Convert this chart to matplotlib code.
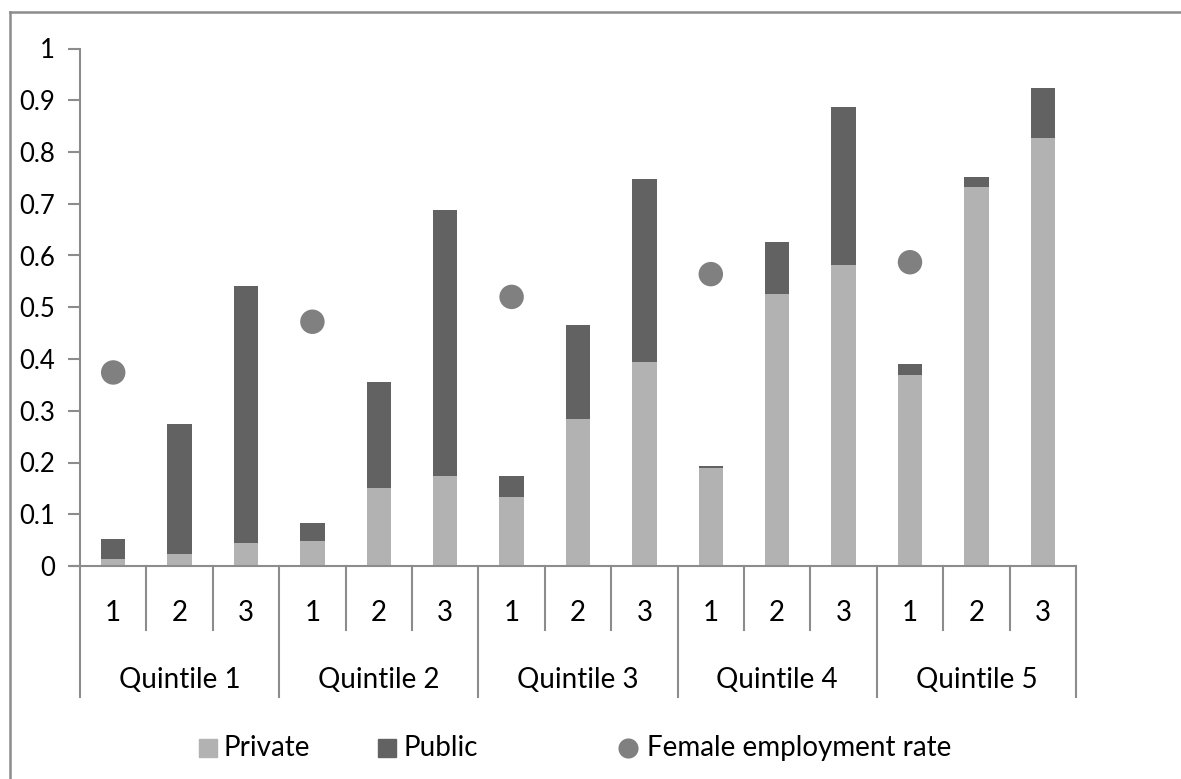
import numpy as np
import matplotlib; matplotlib.use("Agg")
import matplotlib.pyplot as plt
from matplotlib.transforms import blended_transform_factory
from matplotlib.patches import Rectangle
from matplotlib.lines import Line2D

groups = ["Quintile 1", "Quintile 2", "Quintile 3", "Quintile 4", "Quintile 5"]
subcats = ["1", "2", "3"]
private = [0.013, 0.024, 0.044, 0.048, 0.150, 0.174, 0.134, 0.285, 0.395,
           0.190, 0.526, 0.582, 0.370, 0.732, 0.828]
total = [0.053, 0.275, 0.541, 0.083, 0.355, 0.687, 0.174, 0.466, 0.747,
         0.193, 0.626, 0.887, 0.390, 0.751, 0.923]
public = [t - p for t, p in zip(total, private)]
female_rate = [0.374, 0.472, 0.520, 0.564, 0.587]   # shown at sub-category 1 of each quintile

C_PRIV, C_PUB, C_DOT, C_AX = "#b2b2b2", "#626262", "#808080", "#8c8c8c"
plt.rcParams["font.family"] = ["Lato", "DejaVu Sans"]
FS = 20

W, H = 1181, 779
fig = plt.figure(figsize=(W/100, H/100), dpi=100)
ax = fig.add_axes([80/W, 1-566/H, (1076-80)/W, (566-48.5)/H])

x = np.arange(len(private))
ax.bar(x, private, width=0.37, color=C_PRIV, zorder=2)
ax.bar(x, public, width=0.37, bottom=private, color=C_PUB, zorder=2)
ax.scatter(x[::3], female_rate, s=310, color=C_DOT, zorder=3, edgecolors="none")

ax.set_xlim(-0.5, len(x)-0.5); ax.set_ylim(0, 1)
ax.set_yticks(np.arange(0, 1.01, 0.1))
ax.set_yticklabels(["0", "0.1", "0.2", "0.3", "0.4", "0.5", "0.6", "0.7", "0.8", "0.9", "1"])
ax.tick_params(axis="y", length=9, width=1.5, color=C_AX, labelsize=18.5, pad=9)
ax.set_xticks([])
for s in ["top", "right"]: ax.spines[s].set_visible(False)
for s in ["left", "bottom"]:
    ax.spines[s].set_color(C_AX); ax.spines[s].set_linewidth(1.5)
ax.plot([-0.5 - 9/66.4, -0.5], [0, 0], color=C_AX, lw=1.5, clip_on=False)

# two-level category axis
tr = blended_transform_factory(ax.transData, ax.transAxes)
ah = 566-48.5
for i in range(len(x)+1):
    b = -(697-566)/ah if i % 3 == 0 else -(630-566)/ah
    ax.plot([i-0.5, i-0.5], [0, b], color=C_AX, lw=1.5, transform=tr, clip_on=False)
for i in range(len(x)):
    ax.text(i, -(613-566)/ah, subcats[i % 3], transform=tr, ha="center", va="center", fontsize=FS)
for g, name in enumerate(groups):
    ax.text(3*g+1, -(680-566)/ah, name, transform=tr, ha="center", va="center", fontsize=FS)

# chart border (left and top visible)
fig.add_artist(Line2D([10/W, 10/W], [0, 1-12/H], color=C_AX, lw=1.8))
fig.add_artist(Line2D([10/W, 1], [1-12/H, 1-12/H], color=C_AX, lw=1.8))

# legend
ly = 1-748/H
fig.add_artist(Rectangle((199/W, ly-9/H), 18/W, 18/H, color=C_PRIV))
fig.text(223/W, ly, "Private", va="center", fontsize=FS)
fig.add_artist(Rectangle((378/W, ly-9/H), 18/W, 18/H, color=C_PUB))
fig.text(404/W, ly, "Public", va="center", fontsize=FS)
fig.add_artist(Line2D([628/W], [ly], marker="o", markersize=14.5, color=C_DOT, markeredgewidth=0))
fig.text(647/W, ly, "Female employment rate", va="center", fontsize=FS)

fig.savefig("out.png", dpi=100)
